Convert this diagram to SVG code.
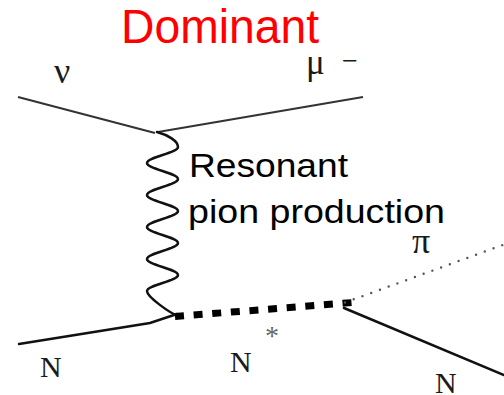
<svg xmlns="http://www.w3.org/2000/svg" width="504" height="395" viewBox="0 0 504 395">
<style>
.lbl{font-family:"Liberation Serif","Times New Roman",serif;fill:#1a1a1a}
.sans{font-family:"Liberation Sans",Arial,sans-serif}
.ln{fill:none;stroke:#111;stroke-width:2.5;stroke-linecap:round}
.thin{fill:none;stroke:#333;stroke-width:2}
</style>
<rect width="504" height="395" fill="#fff"/>
<g id="connectors">
<path id="nu-line" class="thin" d="M18,97 L155,133"/>
<path id="mu-line" class="thin" d="M158,132 L363,97"/>
<path id="photon" class="ln" stroke-width="2.8" d="M157,132 C168,135 178,141 178,147 S147,157 147,163 S178,173 178,179 S147,189 147,195 S178,205 178,211 S147,221 147,227 S178,237 178,243 S147,253 147,259 S178,269 178,275 S147,285 147,291 S170,313 178,316"/>
<path id="n-in" class="ln" d="M19,344 L150,323 L177,314"/>
<path id="n-star" fill="none" stroke="#000" stroke-width="7" stroke-dasharray="9 9.67" d="M175,316.5 L353,302.5"/>
<path id="pion" fill="none" stroke="#555" stroke-width="2.4" stroke-linecap="round" stroke-dasharray="0 9.3" d="M345,302.5 L504,244.5"/>
<path id="n-out" class="ln" d="M344,308 L504,375"/>
</g>
<g id="title"><text class="sans" x="121" y="43" font-size="48" fill="#ff0000" textLength="198" lengthAdjust="spacingAndGlyphs">Dominant</text></g>
<g id="process-label"><text class="sans" x="189" y="177" font-size="34" fill="#000" textLength="159" lengthAdjust="spacingAndGlyphs">Resonant</text><text class="sans" x="188" y="223" font-size="34" fill="#000" textLength="257" lengthAdjust="spacingAndGlyphs">pion production</text></g>
<g id="nu"><text class="lbl" x="54" y="83" font-size="36">ν</text></g>
<g id="muon"><text class="lbl" x="306" y="74" font-size="35">μ</text><text class="lbl" x="342" y="70" font-size="28">−</text></g>
<g id="pi"><text class="lbl" x="412" y="253" font-size="36">π</text></g>
<g id="N-in"><text class="lbl" x="40" y="377" font-size="30">N</text></g>
<g id="N-star"><text class="lbl" x="230" y="372" font-size="30">N</text><text x="265" y="345" font-size="28" fill="#666" font-family="Liberation Serif,serif">*</text></g>
<g id="N-out"><text class="lbl" x="435" y="393" font-size="30">N</text></g>
</svg>
